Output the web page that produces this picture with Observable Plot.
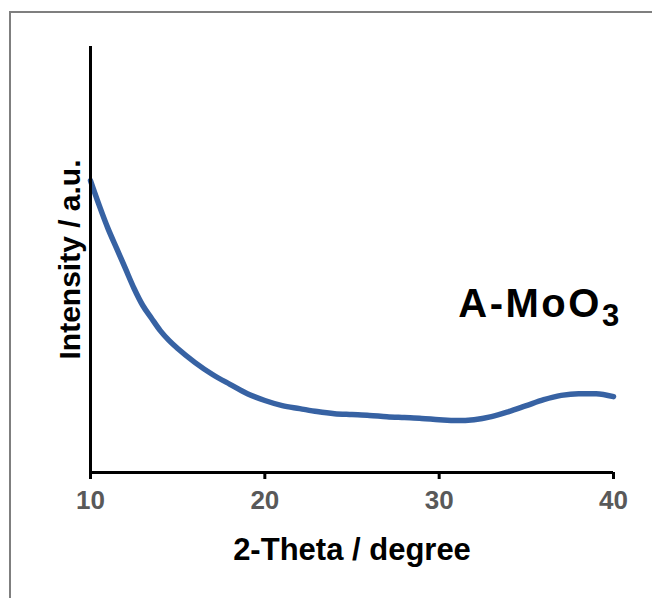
<!DOCTYPE html>
<html><head><meta charset="utf-8">
<script src="https://cdn.jsdelivr.net/npm/d3@7"></script>
<script src="https://cdn.jsdelivr.net/npm/@observablehq/plot@0.6"></script>
<style>
body{margin:0;background:#fff;}
#wrap{position:relative;width:652px;height:598px;overflow:hidden;}
#frame{position:absolute;left:9px;top:11px;width:700px;height:700px;border-top:2px solid #7f7f7f;border-left:2px solid #7f7f7f;pointer-events:none;}
#wrap svg{position:absolute;left:0;top:0;}
</style></head><body><div id="wrap"><div id="frame"></div></div>
<script>
const twoTheta = [10,10.5,11,11.5,12,12.5,13,13.5,14,14.5,15,16,17,18,19,20,21,22,23,24,25,26,27,28,29,30,31,32,33,34,35,36,37,38,39,40];
const intensity = [68.5,62.7,57.3,52.6,47.9,43.2,39.2,36.2,33.3,31.0,29.1,25.8,23.0,20.7,18.5,16.9,15.7,15.0,14.3,13.8,13.6,13.4,13.1,12.9,12.7,12.4,12.2,12.4,13.1,14.3,15.7,17.1,18.1,18.5,18.5,17.8];
const xTicks = [10,20,30,40];
const xTitle = "2-Theta / degree";
const yTitle = "Intensity / a.u.";
const sampleName = "A-MoO";
const sampleSub = "3";
const samplePos = {x:31.1, y:39.6};

const data = twoTheta.map((t,i)=>({t, v:intensity[i]}));
const font = "'Liberation Sans', Arial, sans-serif";
const chart = Plot.plot({
  width:652, height:598,
  marginLeft:90, marginRight:39, marginTop:46, marginBottom:126,
  style:{fontFamily:font, background:"transparent", color:"black"},
  x:{domain:[10,40]},
  y:{domain:[0,100], axis:null},
  marks:[
    Plot.line(data,{x:"t", y:"v", stroke:"#3762a3", strokeWidth:5.5, curve:"monotone-x"}),
    Plot.ruleX([10],{stroke:"black", strokeWidth:3}),
    Plot.ruleY([0],{stroke:"black", strokeWidth:3}),
    Plot.axisX({ticks:xTicks, tickSize:7, strokeWidth:3, stroke:"black", tickPadding:11, fontSize:26, fontWeight:"bold", fill:"#595959", label:null}),
    Plot.text([xTitle],{frameAnchor:"bottom", dy:78, lineAnchor:"middle", fontSize:31, fontWeight:"bold", fill:"black"}),
    Plot.text([yTitle],{frameAnchor:"left", dx:-20, rotate:-90, textAnchor:"middle", lineAnchor:"middle", fontSize:30, fontWeight:"bold", fill:"black"}),
    Plot.text([samplePos],{x:"x", y:"y", text:()=>sampleName+sampleSub, textAnchor:"start", lineAnchor:"middle", fontSize:40, fontWeight:"bold", fill:"black"})
  ]
});
document.getElementById("wrap").appendChild(chart);
// render subscript
d3.select(chart).selectAll("text").each(function(){
  const el = d3.select(this);
  if (el.text() === sampleName+sampleSub) {
    el.text(null);
    el.append("tspan").attr("letter-spacing", "2.5").text(sampleName);
    el.append("tspan").attr("dy", "9").attr("font-size", 31).text(sampleSub);
  }
});
</script>
</body></html>
